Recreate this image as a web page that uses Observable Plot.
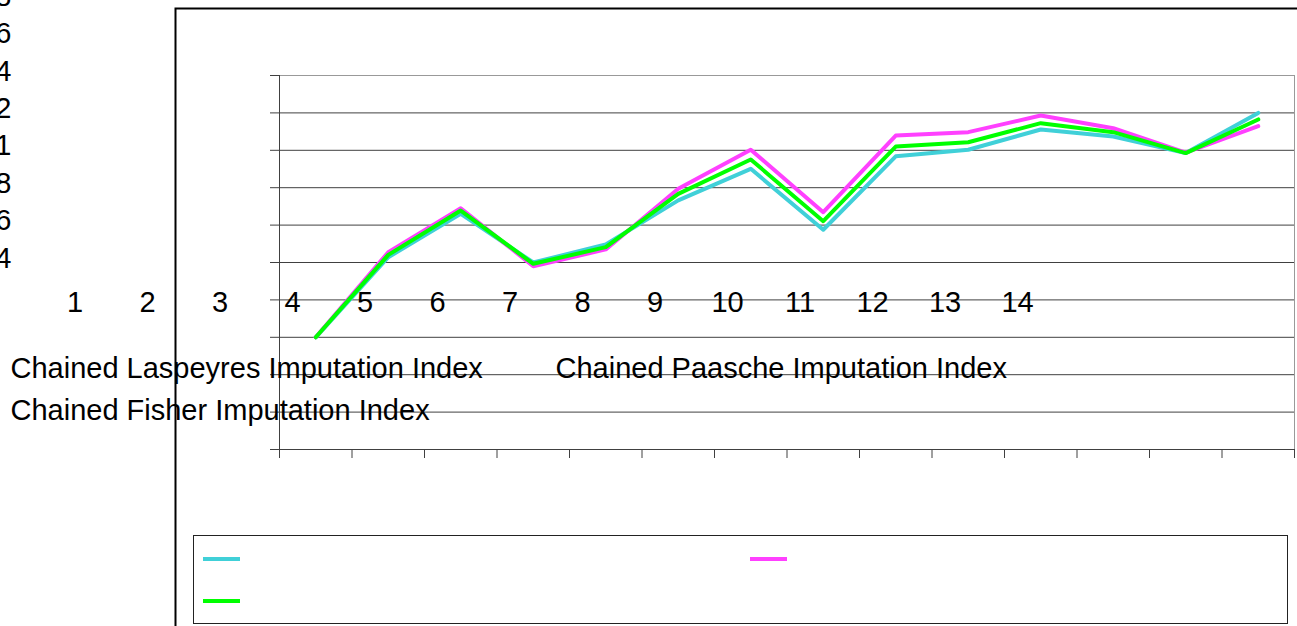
<!DOCTYPE html>
<html>
<head>
<meta charset="utf-8">
<script src="https://cdn.jsdelivr.net/npm/d3@7"></script>
<script src="https://cdn.jsdelivr.net/npm/@observablehq/plot@0.6"></script>
<style>
  html, body { margin: 0; padding: 0; background: white; overflow: hidden; }
  #chart svg { display: block; }
</style>
</head>
<body>
<div id="chart"></div>
<script>
"use strict";

// periods and their (displaced) category labels
const periods = [1, 2, 3, 4, 5, 6, 7, 8, 9, 10, 11, 12, 13, 14]
const periodLabels = ["1", "2", "3", "4", "5", "6", "7", "8", "9", "10", "11", "12", "13", "14"]

// series
const seriesNames = [
   "Chained Laspeyres Imputation Index",
   "Chained Paasche Imputation Index",
   "Chained Fisher Imputation Index"
]
const seriesColors = ["#40d0d8", "#ff40ff", "#00ff00"]

const laspeyres = [1.000, 1.0428, 1.0660, 1.0400, 1.0496, 1.0732, 1.0901, 1.0575, 1.0968, 1.1003, 1.1111, 1.1074, 1.0985, 1.1200]
const paasche   = [1.000, 1.0455, 1.0690, 1.0380, 1.0470, 1.0794, 1.1003, 1.0669, 1.1079, 1.1097, 1.1186, 1.1118, 1.0987, 1.1129]
const fisher    = [1.000, 1.0441, 1.0678, 1.0393, 1.0482, 1.0767, 1.0951, 1.0621, 1.1020, 1.1043, 1.1145, 1.1097, 1.0985, 1.1165]

// gridlines, and the y labels that ended up shifted to the left edge
const gridValues = [0.94, 0.96, 0.98, 1.00, 1.02, 1.04, 1.06, 1.08, 1.10, 1.12, 1.14]
const yTickValues = [1.18, 1.16, 1.14, 1.12, 1.10, 1.08, 1.06, 1.04]
const yTickLabels = ["1.18", "1.16", "1.14", "1.12", "1.1", "1.08", "1.06", "1.04"]

const rows = []
const allSeries = [laspeyres, paasche, fisher]
allSeries.forEach((values, s) => {
   values.forEach((v, i) => rows.push({period: periods[i], value: v, series: seriesNames[s]}))
})

// tick marks sit between categories
const boundaries = periods.map(p => p - 0.5).concat([periods[periods.length - 1] + 0.5])

const font = "'Liberation Sans', Arial, sans-serif"
const fs = 29
const gridColor = "#404040"

const chart = Plot.plot({
   "width": 1297,
   "height": 626,
   "marginTop": 75,
   "marginBottom": 177,
   "marginLeft": 279,
   "marginRight": 3,
   "style": {"fontFamily": font, "fontSize": fs + "px", "background": "white", "overflow": "visible"},
   "x": {"type": "linear", "domain": [0.5, 14.5], "axis": null},
   "y": {"domain": [0.94, 1.14], "axis": null},
   "color": {"domain": seriesNames, "range": seriesColors},
   "marks": [
      Plot.frame({"stroke": "#999"}),
      Plot.ruleY(gridValues.slice(0, -1), {"stroke": gridColor}),
      Plot.axisY(gridValues, {"anchor": "left", "tickSize": 9, "tickFormat": () => "", "label": null, "stroke": gridColor}),
      Plot.axisX(boundaries, {"anchor": "bottom", "tickSize": 9, "tickFormat": () => "", "label": null, "stroke": gridColor}),
      Plot.ruleX([0.5], {"stroke": gridColor}),
      Plot.line(rows, {
         "x": "period",
         "y": "value",
         "stroke": "series",
         "z": "series",
         "strokeWidth": 4,
         "strokeLinejoin": "round"
      }),
      // y labels pushed off the left edge, only last digit visible
      Plot.text(yTickValues, {
         "y": d => d,
         "text": (d, i) => yTickLabels[i],
         "frameAnchor": "left",
         "textAnchor": "end",
         "lineAnchor": "bottom",
         "dx": -268,
         "dy": 5,
         "fontSize": fs,
         "fill": "black"
      }),
      // category labels, shifted left of their points
      Plot.text(periods, {
         "x": d => d - 3.32,
         "text": (d, i) => periodLabels[i],
         "frameAnchor": "top",
         "lineAnchor": "bottom",
         "dy": 236,
         "fontSize": fs,
         "fill": "black"
      }),
      // series names, spilled out of the legend box
      Plot.text([seriesNames[0]], {"text": d => d, "frameAnchor": "top-left", "textAnchor": "start", "lineAnchor": "bottom", "dx": -269, "dy": 302, "fontSize": fs, "fill": "black"}),
      Plot.text([seriesNames[1]], {"text": d => d, "frameAnchor": "top-left", "textAnchor": "start", "lineAnchor": "bottom", "dx": 276, "dy": 302, "fontSize": fs, "fill": "black"}),
      Plot.text([seriesNames[2]], {"text": d => d, "frameAnchor": "top-left", "textAnchor": "start", "lineAnchor": "bottom", "dx": -269, "dy": 344, "fontSize": fs, "fill": "black"})
   ]
})

// chart area border and the empty legend box with its swatches
const svg = d3.select(chart)
svg.append("rect")
   .attr("x", 175.5).attr("y", 8.5).attr("width", 1300).attr("height", 700)
   .attr("fill", "none").attr("stroke", "black").attr("stroke-width", 2)

svg.append("rect")
   .attr("x", 193.5).attr("y", 535.5).attr("width", 1094).attr("height", 88)
   .attr("fill", "white").attr("stroke", "#222").attr("stroke-width", 1)

const swatchPos = [[203, 559], [750, 559], [203, 601]]
swatchPos.forEach(([sx, sy], i) => {
   svg.append("line")
      .attr("x1", sx).attr("x2", sx + 37).attr("y1", sy).attr("y2", sy)
      .attr("stroke", seriesColors[i]).attr("stroke-width", 4)
})

document.querySelector("#chart").append(chart)
</script>
</body>
</html>
